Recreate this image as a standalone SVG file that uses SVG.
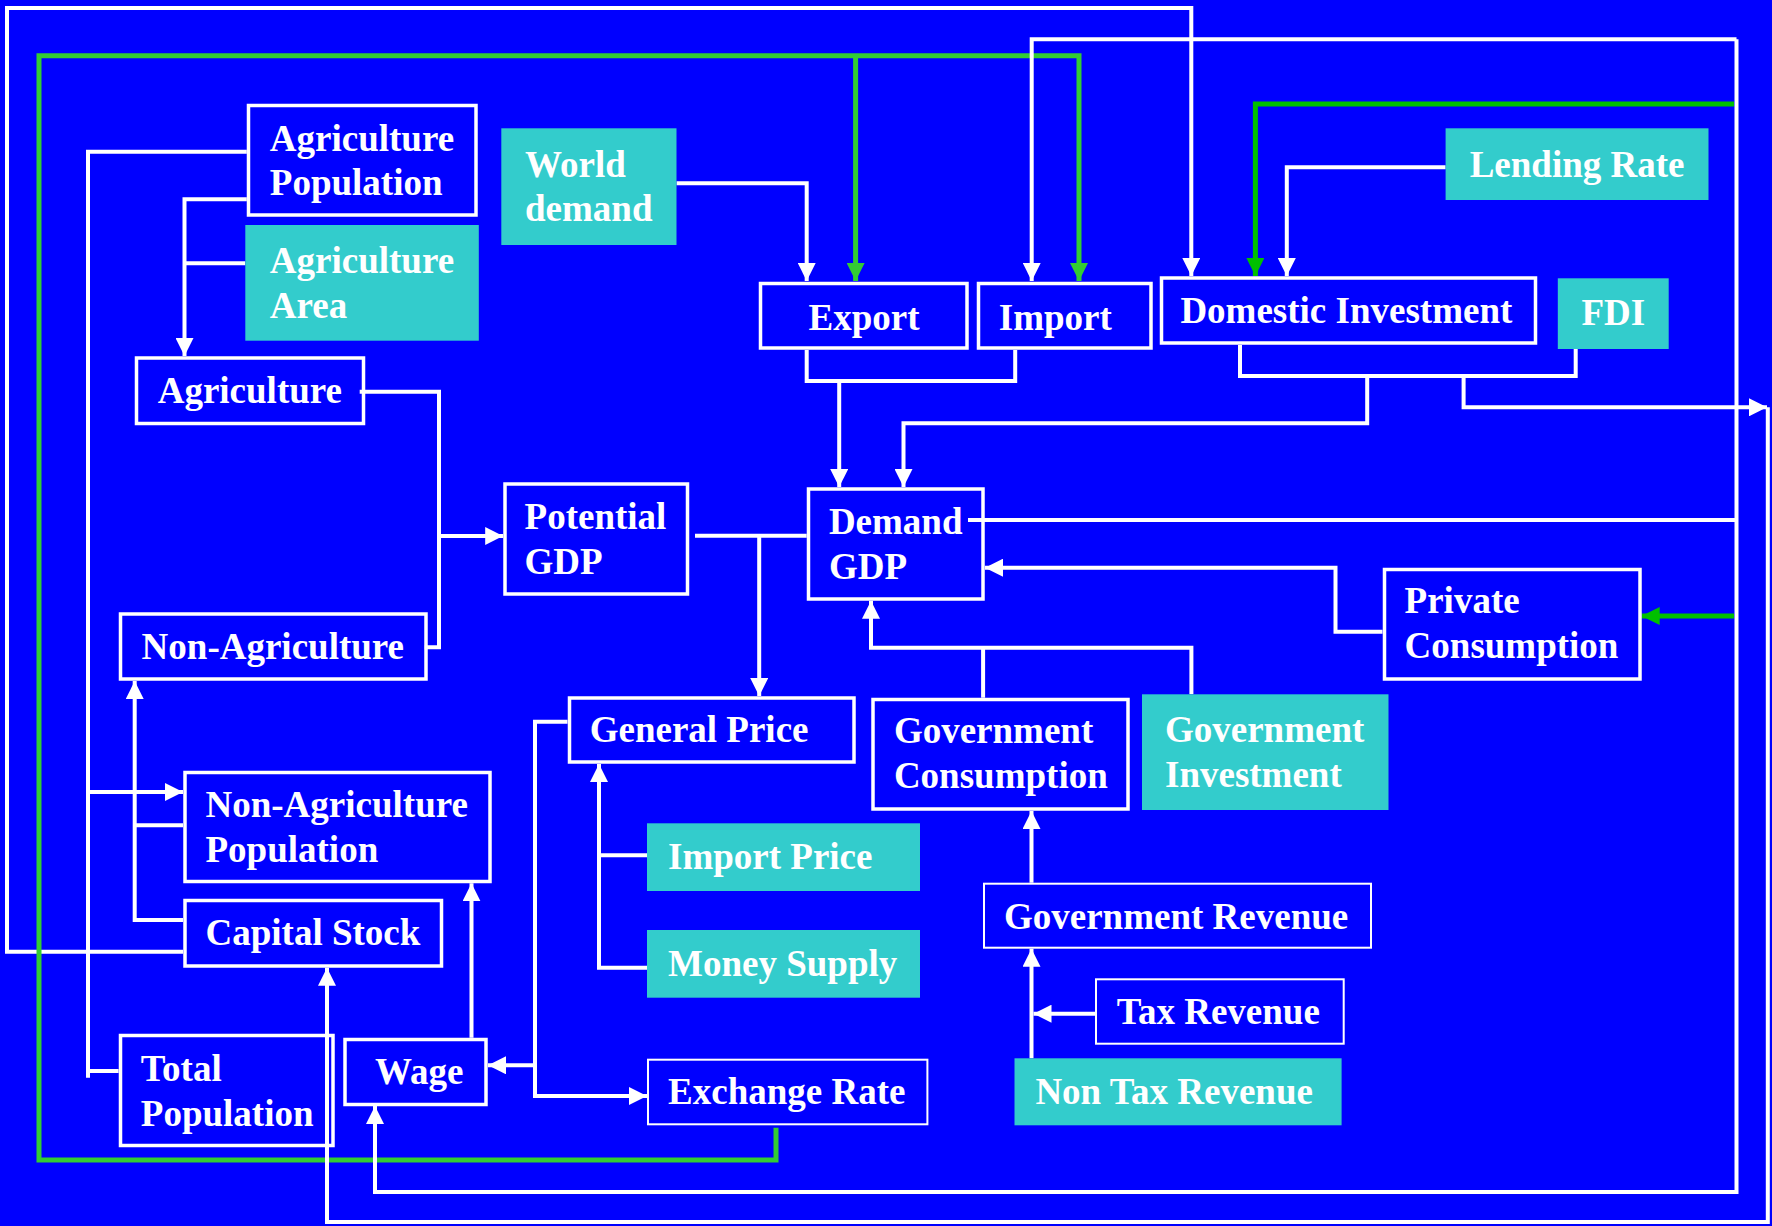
<svg xmlns="http://www.w3.org/2000/svg" width="1772" height="1226" viewBox="0 0 1772 1226">
<style>
.bx{fill:none;stroke:#fff;stroke-width:3.5}
.tb{fill:none;stroke:#fff;stroke-width:2}
.tl{fill:#33CCCC;stroke:none}
.t{font-family:"Liberation Serif","Times New Roman",serif;font-weight:bold;font-size:37px;fill:#fff}
.w{fill:none;stroke:#fff;stroke-width:4;stroke-linejoin:miter}
.g{fill:none;stroke:#33CC33;stroke-width:5}
.g2{fill:none;stroke:#00C000;stroke-width:5}
</style>
<defs>
<marker id="aw" markerUnits="userSpaceOnUse" markerWidth="18" markerHeight="18" viewBox="0 0 18 18" refX="18" refY="9" orient="auto"><path d="M0,0 L18,9 L0,18 z" fill="#fff"/></marker>
<marker id="ag" markerUnits="userSpaceOnUse" markerWidth="18" markerHeight="18" viewBox="0 0 18 18" refX="18" refY="9" orient="auto"><path d="M0,0 L18,9 L0,18 z" fill="#33CC33"/></marker>
<marker id="ag2" markerUnits="userSpaceOnUse" markerWidth="18" markerHeight="18" viewBox="0 0 18 18" refX="18" refY="9" orient="auto"><path d="M0,0 L18,9 L0,18 z" fill="#00C000"/></marker>
</defs>
<rect x="0" y="0" width="1772" height="1226" fill="#0000FF"/>

<g id="connectors">
<path class="w" d="M183,951.7 H7 V8 H1191.3 V276" marker-end="url(#aw)"/>
<path class="g" d="M776,1127.7 V1160 H39 V55.7 H1079 V281" marker-end="url(#ag)"/>
<path class="g" d="M855.6,55.7 V281" marker-end="url(#ag)"/>
<path class="w" d="M968,520 H1736.5"/>
<path class="w" d="M1736.5,39.3 H1031.7 V281" marker-end="url(#aw)"/>
<path class="w" d="M1736.5,39.3 V1192 H375 V1106" marker-end="url(#aw)"/>
<path class="g2" d="M1734,104 H1255.4 V276" marker-end="url(#ag2)"/>
<path class="g2" d="M1734,616 H1641.7" marker-end="url(#ag2)"/>
<path class="w" d="M1445.6,167.3 H1286.8 V276" marker-end="url(#aw)"/>
<path class="w" d="M676.5,183.3 H806.7 V281" marker-end="url(#aw)"/>
<path class="w" d="M806.7,350 V381 H1015.2 V350"/>
<path class="w" d="M839.2,381 V487" marker-end="url(#aw)"/>
<path class="w" d="M1240,345 V376 H1575.7 V349"/>
<path class="w" d="M1367.2,376 V423.3 H903.5 V487" marker-end="url(#aw)"/>
<path class="w" d="M1463.6,376 V407.3 H1767" marker-end="url(#aw)"/>
<path class="w" d="M1767.8,407.3 V1222 H327 V967.7" marker-end="url(#aw)"/>
<path class="w" d="M246.8,151.7 H88 V1077.7"/>
<path class="w" d="M88,1071 H118.6"/>
<path class="w" d="M88,792 H183" marker-end="url(#aw)"/>
<path class="w" d="M246.8,199.3 H184.5 V356" marker-end="url(#aw)"/>
<path class="w" d="M245.3,263.3 H184.5"/>
<path class="w" d="M359.7,391.7 H439 V647.3 H424.8"/>
<path class="w" d="M439,536 H503.2" marker-end="url(#aw)"/>
<path class="w" d="M183,920 H134.7 V681" marker-end="url(#aw)"/>
<path class="w" d="M134.7,825.3 H183"/>
<path class="w" d="M471.5,1037.7 V883.3" marker-end="url(#aw)"/>
<path class="w" d="M567.5,721.7 H535 V1096 H647" marker-end="url(#aw)"/>
<path class="w" d="M535,1065.3 H488" marker-end="url(#aw)"/>
<path class="w" d="M647,855.3 H599"/>
<path class="w" d="M647,967.7 H599 V764" marker-end="url(#aw)"/>
<path class="w" d="M695,535.7 H806.7"/>
<path class="w" d="M759.2,535.7 V696" marker-end="url(#aw)"/>
<path class="w" d="M1191.4,694.3 V647.7 H871 V600.7" marker-end="url(#aw)"/>
<path class="w" d="M983.1,647.7 V697.7"/>
<path class="w" d="M1382.5,631.7 H1335.5 V567.7 H985" marker-end="url(#aw)"/>
<path class="w" d="M1031.5,882.7 V811" marker-end="url(#aw)"/>
<path class="w" d="M1031.5,1058.3 V948.7" marker-end="url(#aw)"/>
<path class="w" d="M1095,1013.7 H1033.5" marker-end="url(#aw)"/>
</g>

<g id="agri-pop"><rect class="bx" x="248.5" y="105.5" width="227.5" height="109.5"/><text class="t" x="269.8" y="150.7">Agriculture</text><text class="t" x="269.8" y="195">Population</text></g>
<g id="agri-area"><rect class="tl" x="245.3" y="225" width="233.5" height="115.7"/><text class="t" x="269.8" y="273.3">Agriculture</text><text class="t" x="269.8" y="318.3">Area</text></g>
<g id="world-demand"><rect class="tl" x="501.3" y="128.3" width="175.2" height="116.7"/><text class="t" x="525" y="176.7">World</text><text class="t" x="525" y="220.7">demand</text></g>
<g id="agriculture"><rect class="bx" x="136.5" y="358" width="227" height="65.5"/><text class="t" x="157.7" y="403.3">Agriculture</text></g>
<g id="export"><rect class="bx" x="760.5" y="283.5" width="206.5" height="64.5"/><text class="t" x="808.6" y="330">Export</text></g>
<g id="import"><rect class="bx" x="978.5" y="283.5" width="172.5" height="64.5"/><text class="t" x="998.8" y="330">Import</text></g>
<g id="domestic-investment"><rect class="bx" x="1161.5" y="278" width="374" height="65"/><text class="t" x="1180.4" y="323.3">Domestic Investment</text></g>
<g id="lending-rate"><rect class="tl" x="1445.6" y="128.3" width="262.9" height="71.7"/><text class="t" x="1469.7" y="176.7">Lending Rate</text></g>
<g id="fdi"><rect class="tl" x="1557.8" y="278.3" width="110.9" height="70.7"/><text class="t" x="1581.5" y="325">FDI</text></g>
<g id="potential-gdp"><rect class="bx" x="505" y="484" width="182.5" height="110"/><text class="t" x="524.6" y="529.3">Potential</text><text class="t" x="524.6" y="574">GDP</text></g>
<g id="demand-gdp"><rect class="bx" x="808.5" y="489" width="174.5" height="110"/><text class="t" x="828.9" y="534">Demand</text><text class="t" x="828.9" y="579">GDP</text></g>
<g id="non-agriculture"><rect class="bx" x="120.5" y="614" width="305.5" height="65"/><text class="t" x="141.6" y="659.3">Non-Agriculture</text></g>
<g id="private-consumption"><rect class="bx" x="1384.5" y="569.5" width="255.5" height="109.5"/><text class="t" x="1404.6" y="613.3">Private</text><text class="t" x="1404.6" y="658.3">Consumption</text></g>
<g id="general-price"><rect class="bx" x="569.5" y="698" width="284.5" height="64"/><text class="t" x="589.7" y="741.7">General Price</text></g>
<g id="gov-consumption"><rect class="bx" x="873" y="699.5" width="255" height="109.5"/><text class="t" x="893.9" y="743.3">Government</text><text class="t" x="893.9" y="788.3">Consumption</text></g>
<g id="gov-investment"><rect class="tl" x="1142" y="694.3" width="246.5" height="115.7"/><text class="t" x="1165" y="741.7">Government</text><text class="t" x="1165" y="786.7">Investment</text></g>
<g id="non-agri-pop"><rect class="bx" x="185" y="772.5" width="305" height="109"/><text class="t" x="205.5" y="816.7">Non-Agriculture</text><text class="t" x="205.5" y="862">Population</text></g>
<g id="import-price"><rect class="tl" x="647" y="823.3" width="273" height="67.7"/><text class="t" x="668" y="869.3">Import Price</text></g>
<g id="capital-stock"><rect class="bx" x="185" y="900.5" width="256.5" height="65.5"/><text class="t" x="205.5" y="945.3">Capital Stock</text></g>
<g id="money-supply"><rect class="tl" x="647" y="930" width="273" height="67.7"/><text class="t" x="668" y="976">Money Supply</text></g>
<g id="gov-revenue"><rect class="tb" x="984" y="883.7" width="387" height="64"/><text class="t" x="1004" y="928.7">Government Revenue</text></g>
<g id="tax-revenue"><rect class="tb" x="1096" y="979.3" width="247.7" height="64.4"/><text class="t" x="1116.7" y="1024.3">Tax Revenue</text></g>
<g id="total-population"><rect class="bx" x="120.5" y="1035.5" width="212.5" height="110"/><text class="t" x="140.8" y="1081">Total</text><text class="t" x="140.8" y="1126">Population</text></g>
<g id="wage"><rect class="bx" x="345" y="1039.5" width="141" height="65"/><text class="t" x="375" y="1084.3">Wage</text></g>
<g id="exchange-rate"><rect class="tb" x="648" y="1059.7" width="279.4" height="64.6"/><text class="t" x="668.1" y="1104.3">Exchange Rate</text></g>
<g id="non-tax-revenue"><rect class="tl" x="1014.5" y="1058.3" width="327.1" height="67"/><text class="t" x="1035.4" y="1104.3">Non Tax Revenue</text></g>
</svg>
